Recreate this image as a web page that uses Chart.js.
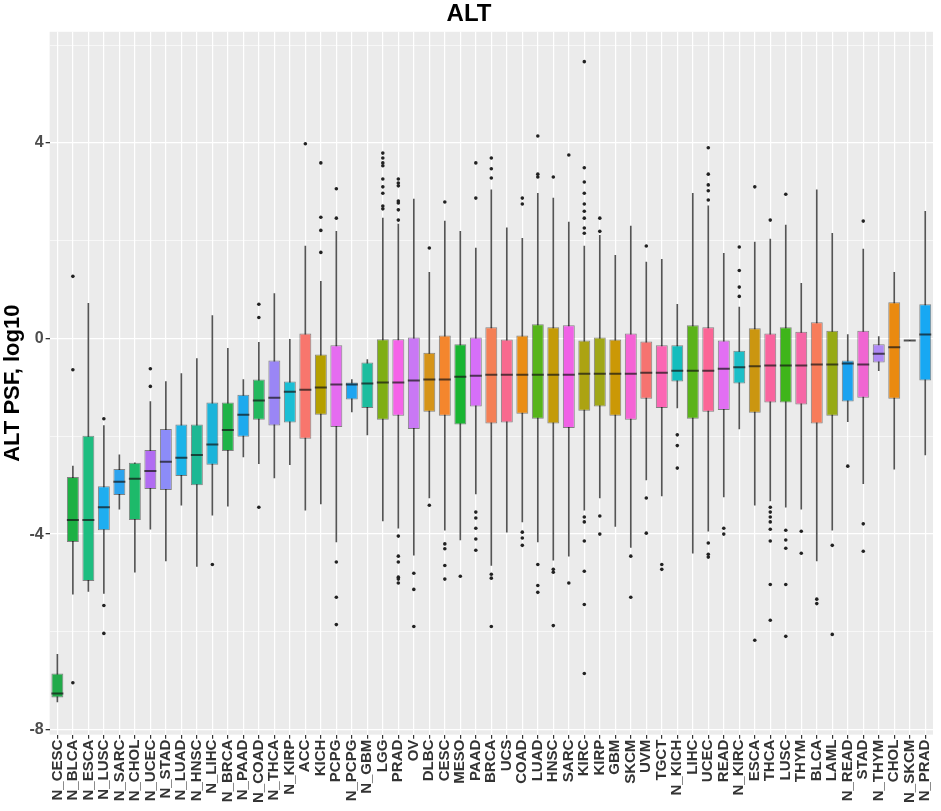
<!DOCTYPE html>
<html>
<head>
<meta charset="utf-8">
<title>ALT</title>
<script src="https://cdn.jsdelivr.net/npm/chart.js@4.4.0/dist/chart.umd.min.js"></script>
<style>
  body { margin: 0; background: #fff; }
  #wrap { width: 941px; height: 811px; }
</style>
</head>
<body>
<div id="wrap"><canvas id="altChart" width="941" height="811"></canvas></div>
<script>
// Categories (x axis order)
const categories = ['N_CESC','N_BLCA','N_ESCA','N_LUSC','N_SARC','N_CHOL','N_UCEC','N_STAD','N_LUAD','N_HNSC',
  'N_LIHC','N_BRCA','N_PAAD','N_COAD','N_THCA','N_KIRP','ACC','KICH','PCPG','N_PCPG',
  'N_GBM','LGG','PRAD','OV','DLBC','CESC','MESO','PAAD','BRCA','UCS',
  'COAD','LUAD','HNSC','SARC','KIRC','KIRP','GBM','SKCM','UVM','TGCT',
  'N_KICH','LIHC','UCEC','READ','N_KIRC','ESCA','THCA','LUSC','THYM','BLCA',
  'LAML','N_READ','STAD','N_THYM','CHOL','N_SKCM','N_PRAD'];

// Box statistics, log10 scale
const whiskerLow = [-7.43,-5.23,-5.17,-5.21,-3.49,-4.78,-3.90,-4.55,-3.41,-4.66,
  -3.61,-3.43,-2.42,-2.56,-2.85,-2.58,-3.51,-3.38,-4.16,-1.50,
  -1.97,-3.73,-3.88,-4.43,-3.26,-3.92,-4.12,-3.18,-4.64,-3.96,
  -3.75,-4.16,-4.53,-4.45,-3.51,-3.26,-3.84,-4.27,-2.89,-3.22,
  -1.42,-4.39,-3.94,-3.24,-1.85,-3.41,-3.32,-3.45,-3.49,-4.55,
  -3.92,-1.70,-2.97,-0.66,-2.67,-0.04,-2.38];
const q1 = [-7.34,-4.16,-4.96,-3.92,-3.20,-3.71,-3.08,-3.10,-2.81,-3.00,
  -2.58,-2.30,-2.01,-1.66,-1.78,-1.72,-2.05,-1.56,-1.81,-1.25,
  -1.42,-1.66,-1.58,-1.85,-1.50,-1.58,-1.76,-1.39,-1.74,-1.72,
  -1.54,-1.64,-1.74,-1.83,-1.48,-1.39,-1.58,-1.66,-1.23,-1.42,
  -0.88,-1.64,-1.50,-1.46,-0.92,-1.52,-1.31,-1.31,-1.35,-1.74,
  -1.58,-1.29,-1.21,-0.49,-1.23,-0.04,-0.86];
const median = [-7.26,-3.71,-3.71,-3.45,-2.93,-2.87,-2.71,-2.52,-2.44,-2.38,
  -2.17,-1.87,-1.56,-1.27,-1.21,-1.09,-1.05,-1.00,-0.94,-0.94,
  -0.92,-0.90,-0.90,-0.86,-0.84,-0.84,-0.78,-0.76,-0.74,-0.74,
  -0.74,-0.74,-0.74,-0.74,-0.72,-0.72,-0.72,-0.72,-0.70,-0.70,
  -0.66,-0.66,-0.66,-0.62,-0.59,-0.57,-0.55,-0.55,-0.55,-0.53,
  -0.53,-0.51,-0.53,-0.31,-0.18,-0.04,0.08];
const q3 = [-6.85,-2.83,-1.99,-3.02,-2.67,-2.54,-2.28,-1.85,-1.76,-1.76,
  -1.31,-1.31,-1.15,-0.84,-0.45,-0.88,0.10,-0.33,-0.14,-0.90,
  -0.49,0.00,0.00,0.02,-0.29,0.06,-0.12,0.02,0.23,-0.02,
  0.06,0.29,0.23,0.27,-0.04,0.02,-0.02,0.10,-0.06,-0.14,
  -0.14,0.27,0.23,-0.04,-0.25,0.21,0.10,0.23,0.14,0.33,
  0.16,-0.45,0.16,-0.12,0.74,-0.04,0.70];
const whiskerHigh = [-6.46,-2.61,0.72,-1.78,-2.38,-2.54,-1.29,-0.88,-0.72,-0.41,
  0.47,-0.20,-0.84,-0.08,0.92,-0.02,1.89,1.17,2.19,-0.84,
  -0.43,2.46,2.34,2.85,1.35,2.40,2.19,1.85,3.04,2.26,
  2.05,2.97,2.87,2.38,1.89,2.11,1.70,2.30,1.56,1.62,
  0.70,2.97,2.71,1.74,0.64,1.97,2.03,2.32,1.13,3.04,
  2.15,0.08,1.83,0.04,1.35,-0.04,2.60];
const outliers = [
  [], [1.27,-0.64,-7.04], [], [-1.64,-5.46,-6.03], [], [], [-0.62,-0.98], [], [], [],
  [-4.62], [], [], [0.70,0.43,-3.45], [], [], [3.98], [3.59,2.48,2.21,1.76], [3.06,2.46,-4.57,-5.29,-5.85], [],
  [], [3.79,3.69,3.59,3.53,3.26,3.10,2.97,2.71,2.65],
  [3.26,3.18,3.12,2.81,2.77,2.63,2.42,-4.04,-4.45,-4.57,-4.88,-4.92,-5.00],
  [-4.80,-5.13,-5.89], [1.85,-3.41], [2.79,-4.20,-4.30,-4.64,-4.92], [-4.86],
  [3.59,2.87,-3.55,-3.67,-3.88,-4.10,-4.33], [3.69,3.47,3.28,-4.82,-4.90,-5.89], [],
  [2.87,2.75,-3.96,-4.08,-4.23], [4.14,3.36,3.30,-4.62,-5.05,-5.19], [3.30,-4.72,-4.78,-5.87], [3.75,-5.00],
  [5.66,3.49,3.20,2.97,2.75,2.60,2.46,2.26,2.15,-3.65,-3.75,-4.14,-4.76,-5.44,-6.85],
  [2.46,2.19,-3.63,-4.00], [], [-4.45,-5.29], [1.89,-3.26,-3.98], [-4.62,-4.72],
  [-1.97,-2.19,-2.65], [], [3.90,3.36,3.14,3.02,2.83,-4.18,-4.41,-4.47], [-3.88,-4.00], [1.87,1.39,1.05,0.86],
  [3.10,-6.17], [2.42,-3.45,-3.55,-3.65,-3.75,-3.90,-4.14,-5.03,-5.76], [2.95,-3.92,-4.12,-4.29,-5.03,-6.09],
  [-3.94,-4.39], [-5.33,-5.42], [-4.23,-6.05], [-2.61], [2.40,-3.79,-4.35], [], [], [], []
];
const yTicks = [-8, -4, 0, 4];

// Fill colours, one per box
const boxColors = ['#22AA4A','#1DB044','#1DBD80','#1EAEF0','#2CA3EE','#1DBA6A','#B16CF2','#8C8CF8','#1BB4E8','#1DB894',
  '#1BB4DA','#1FB347','#1EAAEE','#22B85E','#9A86F5','#1BBED4','#F8766D','#B59F00','#E56CF0','#1EA5F0',
  '#1DBD9E','#7FAE14','#F564E8','#C978F5','#D59419','#F4862D','#18B532','#D66FF8','#F47F55','#F8698E',
  '#EA8D14','#57B41A','#C49B08','#F062E6','#ACA312','#A0A717','#CB9806','#F563D5','#F67370','#FB66B4',
  '#14BDBD','#5BB31A','#FB6596','#E26FF3','#1DBFC8','#CB9610','#F9649E','#3FB51A','#F666A6','#F87C5A',
  '#97AA14','#1BA3F0','#F065D2','#AF8AF5','#EA8A10','#E879D5','#17A8F3'];

// grey panel behind the plot, ggplot style
const panelBg = {
  id: 'panelBg',
  beforeDraw(chart) {
    const { ctx, chartArea: a } = chart;
    ctx.save();
    ctx.fillStyle = '#EBEBEB';
    ctx.fillRect(a.left, a.top, a.width, a.height);
    ctx.restore();
  }
};

const outlierPoints = [];
outliers.forEach((list, i) => {
  list.forEach(v => outlierPoints.push({ x: categories[i], y: v }));
});

const ctx = document.getElementById('altChart').getContext('2d');
new Chart(ctx, {
  type: 'bar',
  data: {
    labels: categories,
    datasets: [
      {
        type: 'line',
        label: 'outliers',
        data: outlierPoints,
        showLine: false,
        pointRadius: 1.8,
        pointHoverRadius: 1.8,
        pointBackgroundColor: '#222',
        pointBorderColor: '#222',
        pointBorderWidth: 0,
        order: 0
      },
      {
        type: 'line',
        label: 'median',
        data: median,
        showLine: false,
        pointStyle: 'line',
        pointRadius: 6,
        pointHoverRadius: 6,
        pointBorderWidth: 2,
        pointBorderColor: 'rgba(20,20,20,0.7)',
        order: 1
      },
      {
        label: 'box',
        data: categories.map((c, i) => [q1[i], q3[i]]),
        backgroundColor: boxColors,
        borderColor: 'rgba(0,0,0,0.45)',
        borderWidth: 1,
        borderSkipped: false,
        barPercentage: 0.77,
        categoryPercentage: 1,
        grouped: false,
        order: 2
      },
      {
        label: 'whisker',
        data: categories.map((c, i) => [whiskerLow[i], whiskerHigh[i]]),
        backgroundColor: '#555',
        barThickness: 1,
        grouped: false,
        order: 3
      }
    ]
  },
  options: {
    responsive: false,
    animation: false,
    layout: { padding: { right: 3, bottom: 7 } },
    plugins: {
      legend: { display: false },
      tooltip: { enabled: false },
      title: {
        display: true,
        text: 'ALT',
        color: '#000',
        font: { family: 'Liberation Sans, Arial, sans-serif', size: 24, weight: 'bold' },
        padding: { top: 0, bottom: 3 }
      }
    },
    scales: {
      x: {
        type: 'category',
        offset: true,
        // let the last rotated label sit under the panel edge, like the original
        afterFit: s => { s.paddingRight = 0; },
        grid: { offset: false, color: '#FFFFFF', lineWidth: 1.2, tickColor: '#333', tickLength: 4 },
        border: { display: false },
        ticks: {
          autoSkip: false,
          minRotation: 90,
          maxRotation: 90,
          padding: 1,
          color: '#333',
          font: { family: 'Liberation Sans, Arial, sans-serif', size: 15, weight: 'bold' }
        }
      },
      y: {
        min: -8.1,
        max: 6.27,
        border: { display: false },
        grid: {
          color: '#FFFFFF',
          lineWidth: c => (c.tick && c.tick.value % 4 === 0 ? 1.3 : 0.6),
          tickColor: c => (c.tick && c.tick.value % 4 === 0 ? '#333' : 'rgba(0,0,0,0)'),
          tickLength: 4
        },
        ticks: {
          stepSize: 2,
          includeBounds: false,
          padding: 2,
          color: '#4D4D4D',
          font: { family: 'Liberation Sans, Arial, sans-serif', size: 16, weight: 'bold' },
          callback: v => (yTicks.includes(v) ? String(v) : '')
        },
        title: {
          display: true,
          text: 'ALT PSF, log10',
          color: '#000',
          padding: { top: 0, bottom: 1 },
          font: { family: 'Liberation Sans, Arial, sans-serif', size: 22, weight: 'bold' }
        }
      }
    }
  },
  plugins: [panelBg]
});
</script>
</body>
</html>
